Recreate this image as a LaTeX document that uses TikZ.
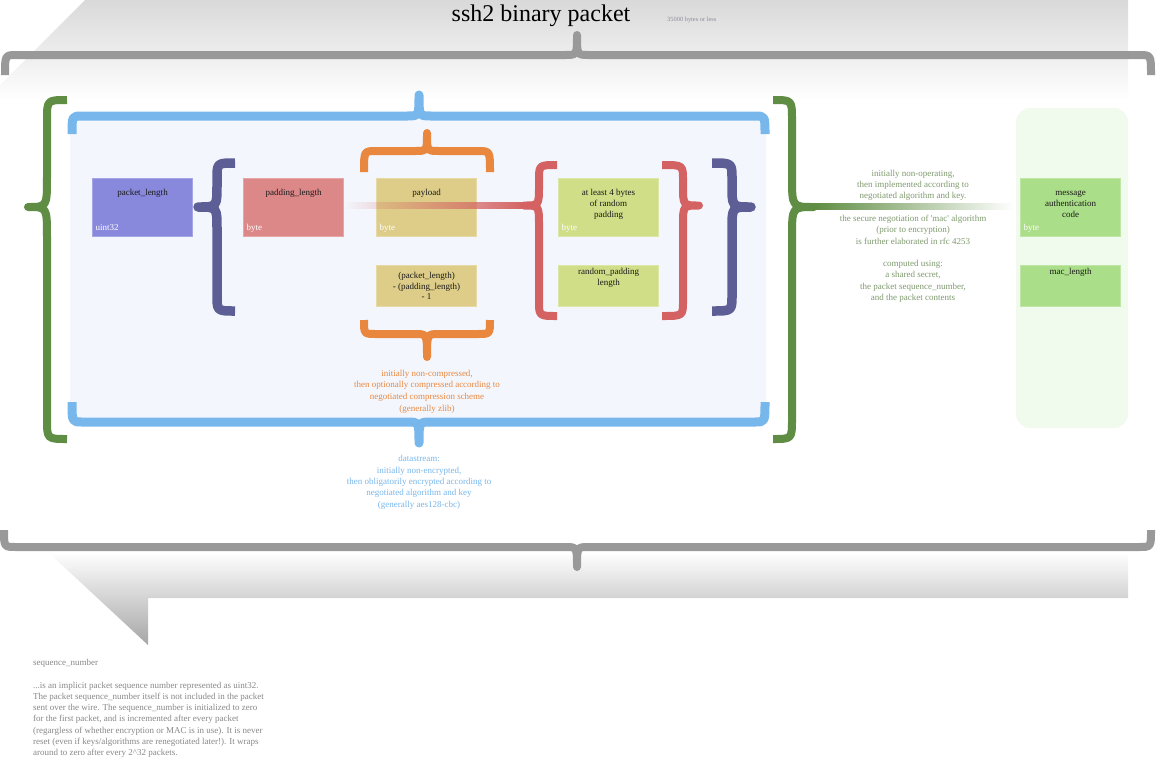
\documentclass[tikz,border=0pt]{standalone}
\usepackage{fontspec}
\setmainfont{Liberation Serif}
\usetikzlibrary{fadings,calc}
\definecolor{cgray}{HTML}{999999}
\definecolor{cgreen}{HTML}{5F8D43}
\definecolor{cblue}{HTML}{78B7EC}
\definecolor{cpurple}{HTML}{5E5E96}
\definecolor{cred}{HTML}{D46262}
\definecolor{corange}{HTML}{E9873F}
\definecolor{cpanel}{HTML}{F3F7FD}
\definecolor{cgpanel}{HTML}{F0FBEE}
\definecolor{fpl}{HTML}{8888DD}
\definecolor{fpad}{HTML}{DD8888}
\definecolor{fpay}{HTML}{DDCD88}
\definecolor{frnd}{HTML}{D0DE88}
\definecolor{fmac}{HTML}{AADE88}
\definecolor{tgreen}{HTML}{7F9A6E}
\definecolor{tgray}{HTML}{888888}
\definecolor{tlim}{HTML}{8C8C9C}
\tikzfading[name=fadein, left color=transparent!100, right color=transparent!0]
\tikzfading[name=fadeout, left color=transparent!0, right color=transparent!100]
\newcommand\firstln{\rule{0pt}{8pt}}
% vertical curly brace: style, xend, xbar, xtip, ytop, ymid, ybot, rend, rtip
\newcommand\vbr[9]{\draw[#1] (#2,#5) .. controls (#3,#5) .. (#3,#5+#8) -- (#3,#6-#9) .. controls (#3,#6) .. (#4,#6) .. controls (#3,#6) .. (#3,#6+#9) -- (#3,#7-#8) .. controls (#3,#7) .. (#2,#7);}
% horizontal brace: style, x1, x2, xtip, yend, ybar, ytip, rend, rtip
\newcommand\hbr[9]{\draw[#1] (#2,#5) .. controls (#2,#6) .. (#2+#8,#6) -- (#4-#9,#6) .. controls (#4,#6) .. (#4,#7) .. controls (#4,#6) .. (#4+#9,#6) -- (#3-#8,#6) .. controls (#3,#6) .. (#3,#5);}
\begin{document}
\begin{tikzpicture}[x=1pt,y=-1pt,
  gry/.style={draw=cgray, line width=8pt, line join=round},
  grn/.style={draw=cgreen, line width=8pt, line join=round},
  blu/.style={draw=cblue, line width=9pt, line join=round},
  pur/.style={draw=cpurple, line width=9.5pt, line join=round},
  redb/.style={draw=cred, line width=8pt, line join=round},
  org/.style={draw=corange, line width=8pt, line join=round},
  fld/.style={fill=#1, draw=#1!75!white, line width=0.8pt, minimum width=100pt, minimum height=58pt, inner sep=0pt, outer sep=0pt},
  fldlow/.style={fld=#1, minimum height=41pt},
  btxt/.style={anchor=north, inner sep=0pt, align=center, text=black!90, font=\fontsize{9}{10.8}\selectfont},
  tlab/.style={anchor=base west, inner sep=0pt, text=white, font=\fontsize{9}{10.8}\selectfont},
  note/.style={anchor=north, inner sep=0pt, align=center, font=\fontsize{9}{11.4}\selectfont}]
\useasboundingbox (0,0) rectangle (1165,772);
\fill[white] (0,0) rectangle (1165,772);
% banners
\shade[top color=black!15, bottom color=white] (85,0) -- (1128,0) -- (1128,100) -- (-15,100) -- cycle;
\shade[top color=white, bottom color=black!35] (48,552) -- (1128,552) -- (1128,598) -- (148,598) -- (148,645) -- cycle;
% panels
\fill[cpanel] (70,118) rectangle (766,420);
\fill[cgpanel, rounded corners=14pt] (1016,108) rectangle (1128,428);
% title
\node[anchor=base, inner sep=0pt, font=\fontsize{24}{28}\selectfont] (title) at (541,21) {ssh2 binary packet};
\node[anchor=base west, inner sep=0pt, text=tlim, font=\fontsize{6.4}{7}\selectfont] (limit) at (667,21) {35000 bytes or less};
% fields
\node[fld=fpl] (plen) at (142.5,207.5) {};
\node[fld=fpad] (padlen) at (293.5,207.5) {};
\node[fld=fpay] (payload) at (426.5,207.5) {};
\node[fldlow=fpay] (paycalc) at (426.5,286) {};
\node[fld=frnd] (rndpad) at (608.5,207.5) {};
\node[fldlow=frnd] (rndlen) at (608.5,286) {};
\node[fld=fmac] (mac) at (1070.5,207.5) {};
\node[fldlow=fmac] (maclen) at (1070.5,286) {};
% gradient connectors
\coordinate (redtip) at (526,205.5);
\fill[cred, path fading=fadein] ($(padlen.east|-redtip)+(0,-3.7)$) rectangle ($(redtip)+(0,3.7)$);
\coordinate (greentip) at (814,206.5);
\coordinate (greenend) at (1013,206.5);
\fill[cgreen, path fading=fadeout] ($(greentip)+(0,-3.6)$) rectangle ($(greenend)+(0,3.6)$);
% field texts
\node[btxt] (plen-l) at ([yshift=-9pt]plen.north) {\firstln packet\_length};
\node[btxt] (padlen-l) at ([yshift=-9pt]padlen.north) {\firstln padding\_length};
\node[btxt] (payload-l) at ([yshift=-9pt]payload.north) {\firstln payload};
\node[btxt] (paycalc-l) at ([yshift=-4.5pt]paycalc.north) {\firstln (packet\_length)\\- (padding\_length)\\- 1};
\node[btxt] (rndpad-l) at ([yshift=-9pt]rndpad.north) {\firstln at least 4 bytes\\of random\\padding};
\node[btxt] (rndlen-l) at ([yshift=-1pt]rndlen.north) {\firstln random\_padding\\length};
\node[btxt] (mac-l) at ([yshift=-9pt]mac.north) {\firstln message\\authentication\\code};
\node[btxt] (maclen-l) at ([yshift=-1pt]maclen.north) {\firstln mac\_length};
\node[tlab] (plen-t) at ([xshift=3pt,yshift=6pt]plen.south west) {uint32};
\node[tlab] (padlen-t) at ([xshift=3pt,yshift=6pt]padlen.south west) {byte};
\node[tlab] (payload-t) at ([xshift=3pt,yshift=6pt]payload.south west) {byte};
\node[tlab] (rndpad-t) at ([xshift=3pt,yshift=6pt]rndpad.south west) {byte};
\node[tlab] (mac-t) at ([xshift=3pt,yshift=6pt]mac.south west) {byte};
% braces
\hbr{gry}{5}{1151}{577}{75}{55}{35}{12}{12}
\hbr{gry}{4}{1151}{577}{530}{547}{567}{12}{12}
\vbr{grn}{67}{47}{28}{100}{207}{439}{20}{30}
\vbr{grn}{773}{792}{814}{100}{207}{439}{20}{30}
\hbr{blu}{72}{765}{419}{134}{116}{95}{10}{12}
\hbr{blu}{72}{765}{419}{402}{422}{443}{10}{12}
\vbr{pur}{235}{217}{198}{163}{207}{311}{16}{22}
\vbr{pur}{712}{732}{751}{163}{207}{311}{16}{22}
\vbr{redb}{557}{539}{524}{165}{205.5}{316}{15}{20}
\vbr{redb}{662}{683}{699}{165}{205.5}{316}{15}{20}
\hbr{org}{364}{490}{427}{172}{151}{133}{12}{12}
\hbr{org}{364}{490}{427}{320}{334}{357}{12}{12}
% notes
\node[note, text=corange, font=\fontsize{9}{11.6}\selectfont] (compnote) at (427,368) {\firstln initially non-compressed,\\then optionally compressed according to\\negotiated compression scheme\\(generally zlib)};
\node[note, text=cblue] (encnote) at (419,453.5) {\firstln datastream:\\initially non-encrypted,\\then obligatorily encrypted according to\\negotiated algorithm and key\\(generally aes128-cbc)};
\node[note, text=tgreen, font=\fontsize{9}{11.3}\selectfont] (macnote) at (913,168) {\firstln initially non-operating,\\then implemented according to\\negotiated algorithm and key.\\~\\the secure negotiation of \textquotesingle mac\textquotesingle{} algorithm\\(prior to encryption)\\is further elaborated in rfc 4253\\~\\computed using:\\a shared secret,\\the packet sequence\_number,\\and the packet contents};
\node[anchor=north west, inner sep=0pt, text=tgray, font=\fontsize{9}{11.2}\selectfont] (seqtitle) at (33,657) {\firstln sequence\_number};
\node[anchor=north west, inner sep=0pt, align=left, text=tgray, font=\fontsize{9}{11.2}\selectfont] (seqtext) at (33,680) {\firstln ...is an implicit packet sequence number represented as uint32.\\The packet sequence\_number itself is not included in the packet\\sent over the wire. The sequence\_number is initialized to zero\\for the first packet, and is incremented after every packet\\(regargless of whether encryption or MAC is in use). It is never\\reset (even if keys/algorithms are renegotiated later!). It wraps\\around to zero after every 2\textasciicircum32 packets.};
\end{tikzpicture}
\end{document}
